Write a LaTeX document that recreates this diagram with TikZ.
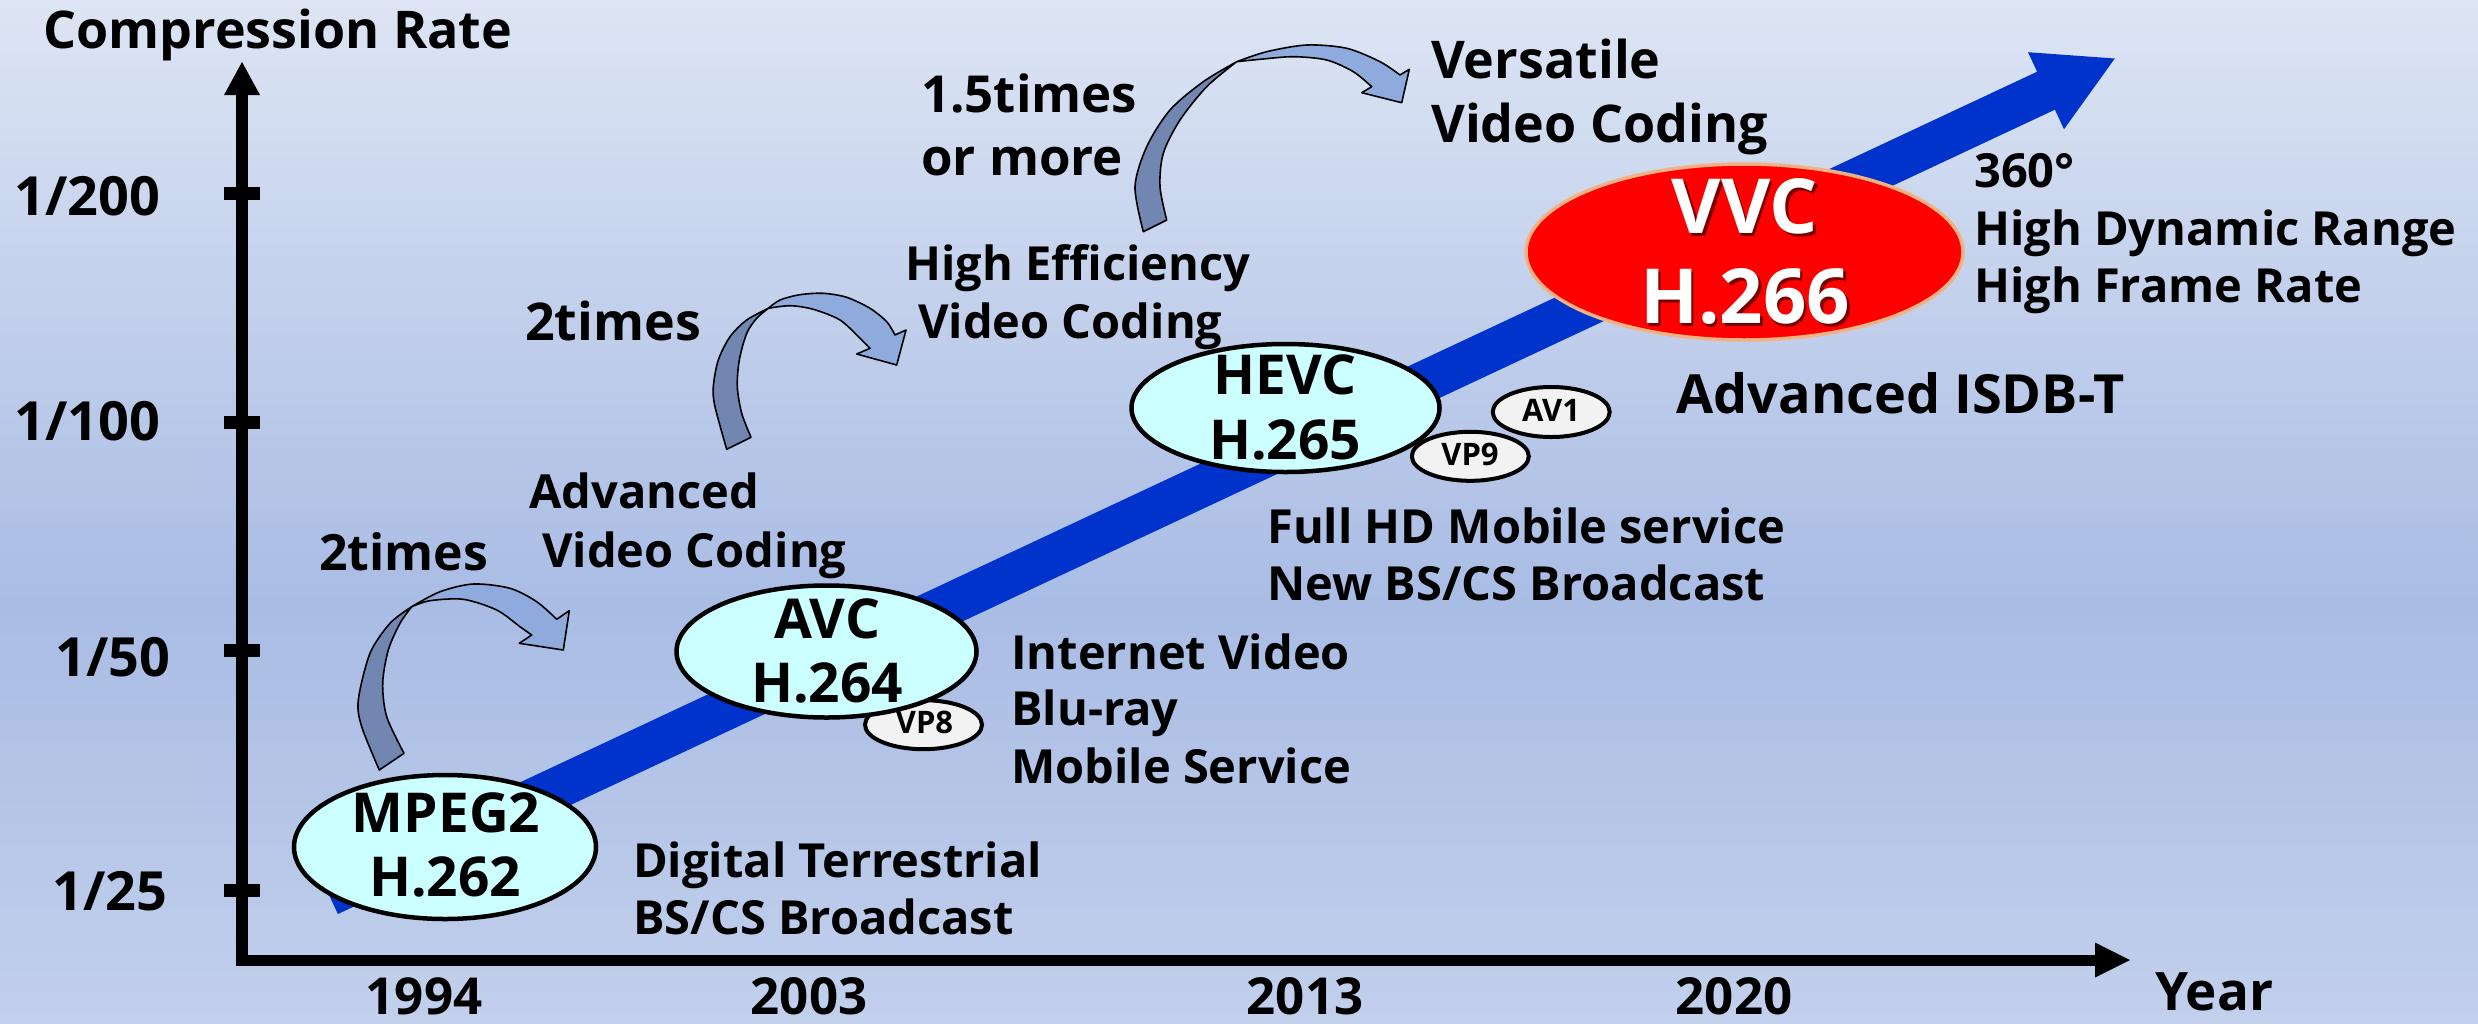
\documentclass[tikz,border=0pt]{standalone}
\usepackage{fontspec}
\setmainfont{Open Sans}
\usetikzlibrary{shapes.geometric}
\definecolor{bgtop}{HTML}{DDE5F4}
\definecolor{bgmid}{HTML}{A9BCE4}
\definecolor{bgbot}{HTML}{C2D0EC}
\definecolor{shaftblue}{HTML}{0033CC}
\definecolor{cyanfill}{HTML}{CCFFFF}
\definecolor{greyfill}{HTML}{F2F2F2}
\definecolor{vvcred}{HTML}{FF0000}
\definecolor{peach}{HTML}{F4B183}
\definecolor{arrdark}{HTML}{7186B0}
\definecolor{arrlight}{HTML}{8FAADC}
\definecolor{shadowred}{HTML}{780000}
\pgfdeclareverticalshading{bgshade}{100bp}{color(0bp)=(bgbot); color(25bp)=(bgbot); color(45.5bp)=(bgmid); color(75bp)=(bgtop); color(100bp)=(bgtop)}
\newcommand\fz[2]{\fontsize{#1bp}{#2bp}\selectfont}
\tikzset{
  lbl/.style={inner sep=0pt, anchor=base west, font=\bfseries\fz{47}{58}},
  clbl/.style={inner sep=0pt, anchor=base, font=\bfseries\fz{55}{65}},
  slbl/.style={inner sep=0pt, anchor=base, font=\bfseries\fz{31}{36}},
  vlbl/.style={inner sep=0pt, anchor=base, font=\bfseries\fz{76}{90}},
  bigell/.style={ellipse, draw=black, line width=4.5bp, fill=cyanfill, inner sep=0pt},
  smallell/.style={ellipse, draw=black, line width=4bp, fill=greyfill, inner sep=0pt, minimum width=117bp, minimum height=49bp},
  tickmark/.style={fill=black},
  darkpart/.style={fill=arrdark, draw=black, line width=1.6bp, line join=round},
  lightpart/.style={fill=arrlight, draw=black, line width=1.6bp, line join=round},
}
\begin{document}
\begin{tikzpicture}[x=1bp,y=-1bp]
\useasboundingbox (0,0) rectangle (2478,1023);
\shade[shading=bgshade] (0,0) rectangle (2478,1023);

% main blue arrow
\coordinate (shA) at (320.1,876.0);
\coordinate (shB) at (2037.1,71.7);
\coordinate (hdA) at (2028.0,52.2);
\coordinate (tip) at (2114.8,58.5);
\coordinate (hdB) at (2064.0,129.2);
\coordinate (shC) at (2054.9,109.7);
\coordinate (shD) at (337.9,914.0);
\fill[shaftblue] (shA) -- (shB) -- (hdA) -- (tip) -- (hdB) -- (shC) -- (shD) -- cycle;

% axes
\coordinate (origin) at (242,966);
\coordinate (ytop) at (242,95);
\coordinate (xorg) at (236,960);
\coordinate (xend) at (2095,960);
\draw[line width=12bp] (origin) -- (ytop);
\fill (224,95) -- (260,95) -- (242,62) -- cycle;
\draw[line width=11bp] (xorg) -- (xend);
\fill (2095,942.5) -- (2095,977.5) -- (2130,960) -- cycle;
\foreach \yy in {193,422,650,890}{
  \fill[tickmark] (224,\yy-6.5) rectangle (260,\yy+6.5);
}

% axis labels
\node[lbl, font=\bfseries\fz{52}{60}] (ylab) at (43,48) {Compression Rate};
\node[lbl, font=\bfseries\fz{54}{60}] (t200) at (14,215) {1/200};
\node[lbl, font=\bfseries\fz{54}{60}] (t100) at (14,440) {1/100};
\node[lbl, font=\bfseries\fz{54}{60}] (t50) at (55,676) {1/50};
\node[lbl, font=\bfseries\fz{54}{60}] (t25) at (52,910) {1/25};
\node[inner sep=0pt, anchor=base, font=\bfseries\fz{51}{60}] (y1994) at (424,1014) {1994};
\node[inner sep=0pt, anchor=base, font=\bfseries\fz{51}{60}] (y2003) at (809,1014) {2003};
\node[inner sep=0pt, anchor=base, font=\bfseries\fz{51}{60}] (y2013) at (1305,1014) {2013};
\node[inner sep=0pt, anchor=base, font=\bfseries\fz{51}{60}] (y2020) at (1734,1014) {2020};
\node[lbl, font=\bfseries\fz{53}{60}] (xlab) at (2155,1010) {Year};

% ellipses
\node[bigell, minimum width=302bp, minimum height=144bp] (mpeg) at (445,847) {};
\node[smallell] (vp8) at (923.5,724.7) {};
\node[bigell, minimum width=300bp, minimum height=132bp] (avc) at (826.5,651.5) {};
\node[bigell, minimum width=308bp, minimum height=128bp] (hevc) at (1285.5,408) {};
\node[smallell, minimum height=50bp] (av1) at (1551.2,412) {};
\node[smallell] (vp9) at (1470.3,456.3) {};
\node[ellipse, draw=peach, line width=3.5bp, fill=vvcred, inner sep=0pt, minimum width=437bp, minimum height=176bp] (vvc) at (1744.5,252) {};

% ellipse labels
\node[clbl] (mpegA) at (446,832) {MPEG2};
\node[clbl] (mpegB) at (445,896) {H.262};
\node[clbl] (avcA) at (827,638) {AVC};
\node[clbl] (avcB) at (827,702) {H.264};
\node[clbl] (hevcA) at (1285,394) {HEVC};
\node[clbl] (hevcB) at (1285,459) {H.265};
\node[slbl] (vp8t) at (924.5,733) {VP8};
\node[slbl] (vp9t) at (1470,465) {VP9};
\node[slbl] (av1t) at (1551,421.5) {AV1};
\node[vlbl, text=shadowred] (vvcAs) at (1747.5,236) {VVC};
\node[vlbl, text=shadowred] (vvcBs) at (1747.5,326) {H.266};
\node[vlbl, text=white] (vvcA) at (1745,233) {VVC};
\node[vlbl, text=white] (vvcB) at (1745,323) {H.266};

% curved arrows
\filldraw[darkpart] plot[smooth] coordinates {(379.3,770) (361.7,726.7) (358.3,700) (370,653.3) (390,623.3) (411.7,606.7)}
  -- plot[smooth] coordinates {(411.7,606.7) (400,623.3) (388.3,650) (382.7,683.3) (386.7,716.7) (404,753.3)} -- cycle;
\filldraw[lightpart] plot[smooth] coordinates {(411.7,606.7) (440,591.7) (473.3,584) (510,588.3) (536.7,601.7) (556.7,619.3)}
  -- (569.3,610.7) -- (563.3,650) -- (519.3,643.3)
  -- plot[smooth] coordinates {(531.7,635) (520,626.7) (496.7,610) (463.3,599.3) (430,600.7) (411.7,606.7)} -- cycle;

\filldraw[darkpart] plot[smooth] coordinates {(726.7,449.3) (715,406.7) (713.3,386.7) (718.3,360) (730,336.7) (746.7,320) (768.3,308.3)}
  -- plot[smooth] coordinates {(768.3,308.3) (756.7,318.3) (746.7,333.3) (739.3,360) (737.3,386.7) (741.7,413.3) (751,437.3)} -- cycle;
\filldraw[lightpart] plot[smooth] coordinates {(768.3,308.3) (780,300) (800,294.7) (823.3,293.3) (846.7,297.3) (870,308.3) (886.7,321.7) (895,335)}
  -- (906,330) -- (896.7,365) -- (856.7,354)
  -- plot[smooth] coordinates {(870,348.3) (860,338.3) (840,320) (813.3,309.3) (790,305.7) (768.3,308.3)} -- cycle;

\filldraw[darkpart] plot[smooth] coordinates {(1143.3,231.7) (1135,186.7) (1146.7,146.7) (1170,110) (1203.3,81.7) (1236.7,61.7)}
  -- plot[smooth] coordinates {(1236.7,61.7) (1206.7,86.7) (1180,120) (1163.3,153.3) (1160,186.7) (1166.7,220)} -- cycle;
\filldraw[lightpart] plot[smooth] coordinates {(1236.7,61.7) (1266.7,51.7) (1306.7,45) (1346.7,48.3) (1380,61.7) (1400,75)}
  -- (1409.3,69.3) -- (1401.7,102.7) -- (1361.7,92.7)
  -- plot[smooth] coordinates {(1371.7,86.7) (1353.3,71.7) (1326.7,60) (1293.3,56.7) (1260,59.3) (1236.7,61.7)} -- cycle;

% texts
\node[lbl, font=\bfseries\fz{50}{60}] (x2a) at (319,570) {2times};
\node[lbl, font=\bfseries\fz{52}{60}] (x2b) at (525,340) {2times};
\node[lbl, font=\bfseries\fz{51}{60}] (x15a) at (921,112) {1.5times};
\node[lbl, font=\bfseries\fz{51}{60}] (x15b) at (921,175) {or more};
\node[lbl] (avcnA) at (529,508) {Advanced};
\node[lbl] (avcnB) at (542,567) {Video Coding};
\node[lbl] (hevcnA) at (905,280) {High Efficiency};
\node[lbl] (hevcnB) at (918,338) {Video Coding};
\node[lbl, font=\bfseries\fz{52}{60}] (vvcnA) at (1431,78) {Versatile};
\node[lbl, font=\bfseries\fz{52}{60}] (vvcnB) at (1431,142) {Video Coding};
\node[lbl] (useA) at (633,877.6) {Digital Terrestrial};
\node[lbl] (useB) at (633,934) {BS/CS Broadcast};
\node[lbl] (useC) at (1011,669) {Internet Video};
\node[lbl] (useD) at (1011,725) {Blu-ray};
\node[lbl] (useE) at (1011,783) {Mobile Service};
\node[lbl] (useF) at (1267,543) {Full HD Mobile service};
\node[lbl] (useG) at (1267,600) {New BS/CS Broadcast};
\node[lbl, font=\bfseries\fz{54}{60}] (useH) at (1676,413) {Advanced ISDB-T};
\node[lbl] (useI) at (1974,187) {360°};
\node[lbl] (useJ) at (1974,245) {High Dynamic Range};
\node[lbl] (useK) at (1974,302) {High Frame Rate};
\end{tikzpicture}
\end{document}
